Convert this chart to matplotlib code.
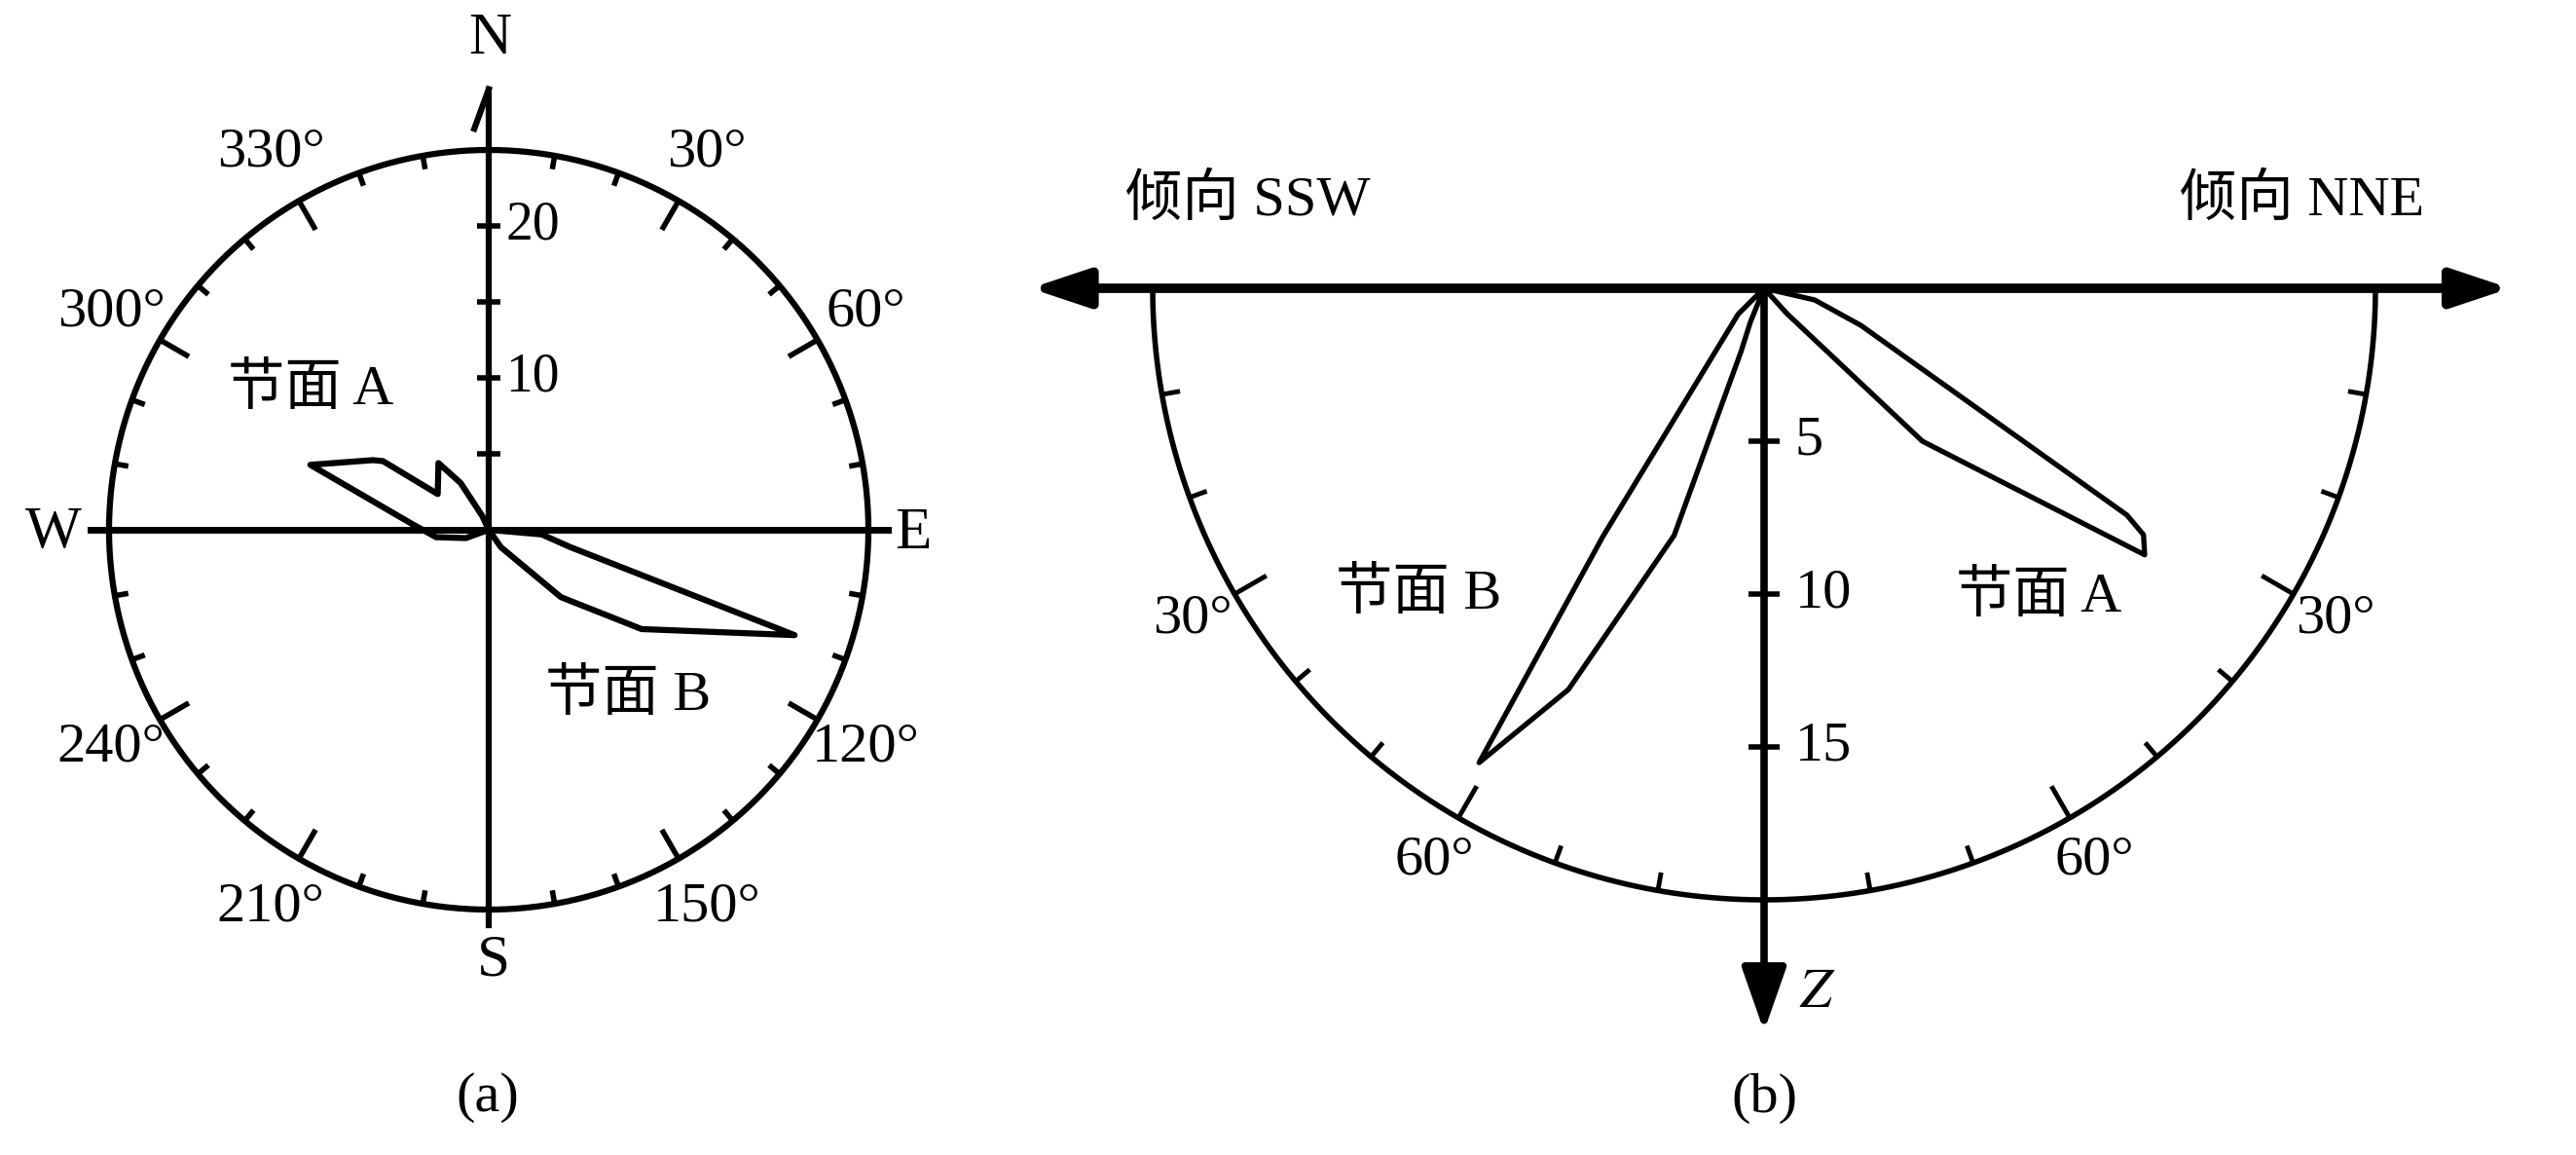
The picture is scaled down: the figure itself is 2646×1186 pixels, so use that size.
import numpy as np
import matplotlib.pyplot as plt

plt.rcParams['font.family'] = ['Liberation Serif', 'Noto Sans CJK SC']
plt.rcParams['mathtext.fontset'] = 'stix'

# (a) strike rose: azimuth (deg, clockwise from N) and frequency
joint_a_az = [250, 262, 274, 290, 301, 303, 305, 323, 329, 335]
joint_a_n = [1.6, 3.5, 5.0, 12.5, 8.9, 8.3, 4.1, 5.5, 3.6, 1.0]
joint_b_az = [95, 102, 109, 123, 133, 145]
joint_b_n = [3.5, 5.5, 21.3, 12.0, 6.5, 1.4]
rose_rmax = 25
rose_ticks = [5, 10, 15, 20]
rose_ticklabels = {10: '10', 20: '20'}
az_labels = [30, 60, 120, 150, 210, 240, 300, 330]

# (b) dip rose: dip angle (deg from horizontal) and frequency
dip_a = [13, 21, 32, 33, 35, 44, 48]          # 节面 A, toward NNE (right)
dip_a_n = [1.7, 3.4, 14.0, 14.8, 15.2, 7.2, 1.1]
dip_b = [45, 57, 59, 64, 70, 70, 68]          # 节面 B, toward SSW (left)
dip_b_n = [1.2, 9.7, 18.1, 14.6, 8.6, 2.2, 1.2]
dip_rmax = 20
dip_ticks = [5, 10, 15]
dip_labels = [30, 60]

FS = 42
K = 'black'


def rose_xy(az, r):
    a = np.radians(np.asarray(az, float))
    r = np.asarray(r, float)
    return r * np.sin(a), r * np.cos(a)


def dip_xy(dip, r, side):
    d = np.radians(np.asarray(dip, float))
    r = np.asarray(r, float)
    return side * r * np.cos(d), -r * np.sin(d)


W, H = 2646, 1186
fig = plt.figure(figsize=(W / 100, H / 100), dpi=100, facecolor='white')

# ---------------- (a) ----------------
ax1 = fig.add_axes([0, 0, 0.5, 1])
u1 = 15.6            # px per unit
ox1, oy1 = 502, 544  # origin in px
ax1.set_xlim(-ox1 / u1, (W / 2 - ox1) / u1)
ax1.set_ylim(-(H - oy1) / u1, oy1 / u1)
ax1.axis('off')

t = np.linspace(0, 360, 721)
cx, cy = rose_xy(t, np.full_like(t, rose_rmax))
ax1.plot(cx, cy, color=K, lw=4.5, clip_on=False)

# compass ticks every 10 deg, longer at multiples of 30
for a in range(10, 360, 10):
    if a % 90 == 0:
        continue
    ln = 2.2 if a % 30 == 0 else 0.9
    x, y = rose_xy([a, a], [rose_rmax, rose_rmax - ln])
    ax1.plot(x, y, color=K, lw=4, solid_capstyle='butt', clip_on=False)

# axes
ax1.plot([0, 0], [-26.0, 29.0], color=K, lw=4.5, clip_on=False)
ax1.plot([0, -0.95], [29.0, 26.4], color=K, lw=4.5, clip_on=False)
ax1.plot([-26.2, 26.3], [0, 0], color=K, lw=5, clip_on=False)
for v in rose_ticks:
    ax1.plot([-0.75, 0.75], [v, v], color=K, lw=4, solid_capstyle='butt')
    if v in rose_ticklabels:
        ax1.text(1.1, v, rose_ticklabels[v], fontsize=FS - 2, ha='left', va='center')

# petals
xa, ya = rose_xy([0] + joint_a_az + [0], [0] + joint_a_n + [0])
ax1.plot(xa, ya, color=K, lw=4.5, solid_joinstyle='round')
xb, yb = rose_xy([0] + joint_b_az + [0], [0] + joint_b_n + [0])
ax1.plot(xb, yb, color=K, lw=4.5, solid_joinstyle='round')

for a in az_labels:
    x, y = rose_xy(a, 28.7)
    ax1.text(x, y, f'{a}°', fontsize=FS, ha='center', va='center')
ax1.text(0.1, 32.3, 'N', fontsize=FS + 2, ha='center', va='center')
ax1.text(0.3, -28.4, 'S', fontsize=FS + 2, ha='center', va='center')
ax1.text(-28.65, -0.2, 'W', fontsize=FS + 2, ha='center', va='center')
ax1.text(27.95, -0.25, 'E', fontsize=FS + 2, ha='center', va='center')
ax1.text(-11.7, 9.2, '节面 A', fontsize=FS, ha='center', va='center')
ax1.text(9.2, -10.9, '节面 B', fontsize=FS, ha='center', va='center')
ax1.text(-0.1, -37.4, '(a)', fontsize=FS, ha='center', va='center')

# ---------------- (b) ----------------
ax2 = fig.add_axes([0.5, 0, 0.5, 1])
u2 = 31.4
ox2, oy2 = 1812 - W / 2, 296
ax2.set_xlim(-ox2 / u2, (W / 2 - ox2) / u2)
ax2.set_ylim(-(H - oy2) / u2, oy2 / u2)
ax2.axis('off')

t2 = np.linspace(0, 90, 200)
for side in (-1, 1):
    x, y = dip_xy(t2, np.full_like(t2, dip_rmax), side)
    ax2.plot(x, y, color=K, lw=4, clip_on=False)
    for a in range(10, 90, 10):
        ln = 1.2 if a % 30 == 0 else 0.6
        x, y = dip_xy([a, a], [dip_rmax, dip_rmax - ln], side)
        ax2.plot(x, y, color=K, lw=3.5, solid_capstyle='butt', clip_on=False)
    for a in dip_labels:
        x, y = dip_xy(a, 21.6, side)
        ax2.text(x, y, f'{a}°', fontsize=FS, ha='center', va='center')

ax2.annotate('', xy=(-24.0, 0), xytext=(24.4, 0), annotation_clip=False,
             arrowprops=dict(arrowstyle='<|-|>,head_length=0.9,head_width=0.3',
                             mutation_scale=40, lw=7, color=K,
                             shrinkA=0, shrinkB=0, clip_on=False))
ax2.annotate('', xy=(0, -24.3), xytext=(0, 0), annotation_clip=False,
             arrowprops=dict(arrowstyle='-|>,head_length=1.0,head_width=0.35',
                             mutation_scale=40, lw=5.5, color=K,
                             shrinkA=0, shrinkB=0, clip_on=False))
for v in dip_ticks:
    ax2.plot([-0.5, 0.5], [-v, -v], color=K, lw=4, solid_capstyle='butt')
    ax2.text(1.0, -v, str(v), fontsize=FS, ha='left', va='center')

xa, ya = dip_xy([0] + dip_a + [0], [0] + dip_a_n + [0], 1)
ax2.plot(xa, ya, color=K, lw=3.8, solid_joinstyle='round', clip_on=False)
xb, yb = dip_xy([0] + dip_b + [0], [0] + dip_b_n + [0], -1)
ax2.plot(xb, yb, color=K, lw=3.8, solid_joinstyle='round', clip_on=False)

ax2.text(-16.9, 2.87, '倾向 SSW', fontsize=FS, ha='center', va='center')
ax2.text(17.6, 2.87, '倾向 NNE', fontsize=FS, ha='center', va='center')
ax2.text(-11.3, -10.0, '节面 B', fontsize=FS, ha='center', va='center')
ax2.text(9.0, -10.1, '节面 A', fontsize=FS, ha='center', va='center')
ax2.text(1.75, -23.06, r'$Z$', fontsize=FS, ha='center', va='center')
ax2.text(0, -26.5, '(b)', fontsize=FS, ha='center', va='center')

fig.savefig('out.png', dpi=100, facecolor='white')
